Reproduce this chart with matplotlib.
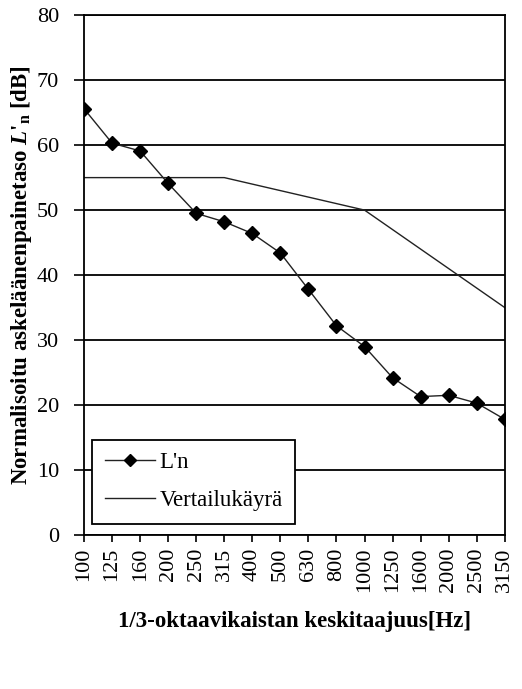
import matplotlib.pyplot as plt

plt.rcParams['font.family'] = ['Liberation Serif', 'DejaVu Serif']
plt.rcParams['mathtext.fontset'] = 'custom'
plt.rcParams['mathtext.rm'] = 'Liberation Serif:bold'
plt.rcParams['mathtext.it'] = 'Liberation Serif:italic:bold'
plt.rcParams['mathtext.bf'] = 'Liberation Serif:bold'

freqs = ['100', '125', '160', '200', '250', '315', '400', '500', '630', '800',
         '1000', '1250', '1600', '2000', '2500', '3150']
ln = [65.6, 60.3, 59.1, 54.1, 49.5, 48.2, 46.4, 43.4, 37.8, 32.2,
      29.0, 24.2, 21.3, 21.5, 20.3, 17.8]
vertailu = [55, 55, 55, 55, 55, 55, 54, 53, 52, 51, 50, 47, 44, 41, 38, 35]

fig = plt.figure(figsize=(5.22, 6.89), dpi=100)
ax = fig.add_axes([0.161, 0.2235, 0.806, 0.7545])

x = list(range(len(freqs)))
ax.plot(x, ln, color='#222222', linewidth=1.0, marker='D', markersize=7.5,
        markerfacecolor='black', markeredgecolor='black', label="L'n", zorder=3)
ax.plot(x, vertailu, color='#222222', linewidth=1.0, label='Vertailukäyrä', zorder=2)

ax.set_xlim(0, len(freqs) - 1)
ax.set_ylim(0, 80)
ax.set_yticks(range(0, 81, 10))
ax.set_xticks(x)
ax.set_xticklabels(freqs, rotation=90, fontsize=16)
ax.tick_params(axis='y', labelsize=16, direction='out', length=7, width=1.2, pad=11)
ax.tick_params(axis='x', direction='out', length=5, width=1.2, pad=4)
ax.grid(axis='y', color='black', linewidth=1.3)
ax.set_axisbelow(True)
for s in ax.spines.values():
    s.set_linewidth(1.3)
    s.set_color('black')

ax.set_xlabel('1/3-oktaavikaistan keskitaajuus[Hz]', fontsize=16.5, fontweight='bold', labelpad=14)
ax.set_ylabel(r"Normalisoitu askeläänenpainetaso $\mathit{L}$'$_{\mathrm{n}}$ [dB]",
              fontsize=16.5, fontweight='bold', labelpad=2)

leg = ax.legend(loc='lower left', bbox_to_anchor=(0.019, 0.021), borderaxespad=0,
                fontsize=16.5, frameon=True, fancybox=False, framealpha=1,
                edgecolor='black', handlelength=2.2, handleheight=0.7,
                borderpad=0.55, labelspacing=0.75, handletextpad=0.2,
                markerscale=0.75)
leg.get_frame().set_linewidth(1.3)

fig.savefig('out.png', dpi=100)
